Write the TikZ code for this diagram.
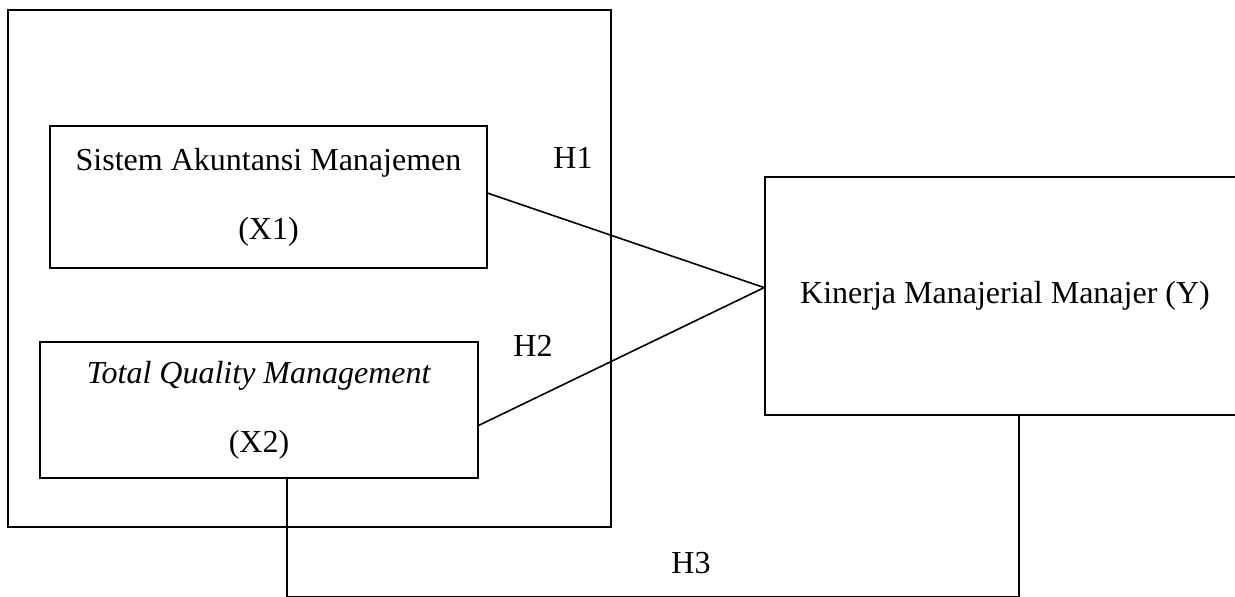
\documentclass[tikz,border=0pt]{standalone}
\usepackage{fontspec}
\setmainfont{Liberation Serif}
\usetikzlibrary{positioning, calc}
\tikzset{
    varbox/.style={draw, line width=1.6pt, inner sep=0pt, align=center, font=\fontsize{32}{38}\selectfont},
    hyp/.style={inner sep=0pt, font=\fontsize{32}{38}\selectfont},
    link/.style={line width=1.6pt},
}
\begin{document}
\begin{tikzpicture}[x=1pt, y=-1pt]
    \useasboundingbox (0,0) rectangle (1235,597);
    \clip (0,0) rectangle (1235,597);

    \node[varbox, minimum width=603pt, minimum height=517pt] (grp) at (309.5,268.5) {};
    \node[varbox, minimum width=437pt, minimum height=142pt] (x1) at (268.5,197) {Sistem Akuntansi Manajemen\\[31pt](X1)};
    \node[varbox, minimum width=438pt, minimum height=136pt] (x2) at (259,410) {\textit{Total Quality Management}\\[31pt](X2)};
    \node[varbox, minimum width=480pt, minimum height=238pt] (y) at (1005,296) {Kinerja Manajerial Manajer (Y)};

    \node[hyp] (h1) at (573,158) {H1};
    \node[hyp] (h2) at (533,346) {H2};
    \node[hyp] (h3) at (691,563) {H3};

    \draw[link] (x1.1) -- (y.178);
    \draw[link] (x2.-4.4) -- (y.178);
    \draw[link] ([xshift=28pt]x2.south) -- ++(0,118) -| ([xshift=14pt]y.south);
\end{tikzpicture}
\end{document}
